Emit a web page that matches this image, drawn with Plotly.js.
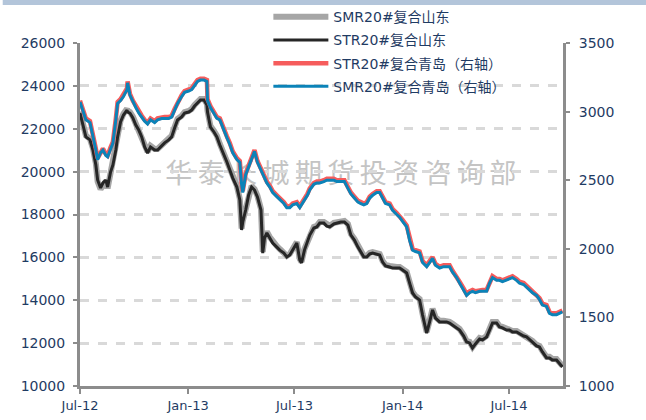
<!DOCTYPE html>
<html>
<head>
<meta charset="utf-8">
<script src="https://cdn.plot.ly/plotly-3.0.1.min.js"></script>
<style>
  html, body { margin: 0; padding: 0; background: #fff; }
  #chart { width: 646px; height: 420px; }
</style>
</head>
<body>
<div id="chart"></div>
<script>
// ── 天然橡胶现货价格：山东 vs 青岛 ─────────────────────────────

const dates = [
  '2012-07-01','2012-07-06','2012-07-11','2012-07-18','2012-07-23','2012-07-28','2012-07-31','2012-08-05','2012-08-09','2012-08-14',
  '2012-08-17','2012-08-22','2012-08-26','2012-08-31','2012-09-03','2012-09-08','2012-09-13','2012-09-19','2012-09-20','2012-09-24',
  '2012-09-29','2012-10-04','2012-10-09','2012-10-14','2012-10-19','2012-10-24','2012-10-29','2012-11-05','2012-11-10','2012-11-17',
  '2012-11-22','2012-11-29','2012-12-04','2012-12-09','2012-12-14','2012-12-21','2012-12-26','2013-01-02','2013-01-07','2013-01-12',
  '2013-01-17','2013-01-22','2013-01-28','2013-02-02','2013-02-03','2013-02-08','2013-02-14','2013-02-19','2013-02-24','2013-03-01',
  '2013-03-08','2013-03-13','2013-03-18','2013-03-25','2013-03-30','2013-04-02','2013-04-04','2013-04-09','2013-04-14','2013-04-19',
  '2013-04-24','2013-04-29','2013-05-05','2013-05-08','2013-05-11','2013-05-15','2013-05-20','2013-05-25','2013-06-01','2013-06-06',
  '2013-06-13','2013-06-18','2013-06-23','2013-06-28','2013-07-05','2013-07-10','2013-07-13','2013-07-18','2013-07-23','2013-07-27',
  '2013-08-03','2013-08-08','2013-08-13','2013-08-20','2013-08-25','2013-08-30','2013-09-06','2013-09-11','2013-09-18','2013-09-24',
  '2013-09-30','2013-10-05','2013-10-11','2013-10-17','2013-10-22','2013-10-27','2013-11-01','2013-11-06','2013-11-11','2013-11-18',
  '2013-11-23','2013-11-28','2013-12-03','2013-12-10','2013-12-15','2013-12-22','2013-12-27','2014-01-01','2014-01-08','2014-01-13',
  '2014-01-18','2014-01-23','2014-01-30','2014-02-04','2014-02-08','2014-02-11','2014-02-16','2014-02-21','2014-02-26','2014-03-05',
  '2014-03-12','2014-03-17','2014-03-22','2014-03-27','2014-04-03','2014-04-08','2014-04-15','2014-04-20','2014-04-25','2014-04-30',
  '2014-05-05','2014-05-12','2014-05-17','2014-05-24','2014-05-29','2014-06-03','2014-06-10','2014-06-15','2014-06-20','2014-06-27',
  '2014-07-02','2014-07-07','2014-07-14','2014-07-19','2014-07-26','2014-07-31','2014-08-05','2014-08-10','2014-08-17','2014-08-22',
  '2014-08-27','2014-09-03','2014-09-08','2014-09-13','2014-09-20','2014-09-25','2014-09-30'
];

// 左轴 元/吨
const smrShandong = [
  22800,22250,21680,21520,21080,20380,19540,19180,19420,19560,
  19220,19920,20380,21080,21680,22380,22700,22930,22840,22780,
  22560,22230,21990,21680,21200,20920,21200,21060,21060,21250,
  21380,21530,21670,22080,22460,22600,22780,22830,22920,23110,
  23250,23390,23390,23160,22830,22130,21900,21670,21290,20920,
  20500,20130,19750,19330,18730,17340,17700,18260,18960,19330,
  19190,18870,18260,16260,16950,17190,16950,16720,16530,16390,
  16250,16070,16160,16390,16720,15930,15790,16390,16770,17090,
  17420,17470,17650,17650,17510,17470,17610,17650,17700,17700,
  17560,17090,16860,16530,16300,16070,16070,16210,16250,16210,
  16160,15830,15650,15600,15550,15550,15550,15460,15320,14850,
  14390,14200,14060,13360,12900,12520,13040,13600,13220,13040,
  13040,13040,12990,12900,12760,12660,12380,12100,12060,11820,
  12010,12240,12200,12340,12660,12990,12990,12800,12760,12660,
  12660,12570,12570,12480,12380,12340,12240,12100,11920,11870,
  11640,11360,11360,11260,11260,11120,10940
];
const strShandong = [
  22730,22170,21620,21480,21010,20310,19610,19240,19470,19610,
  19280,19980,20310,21010,21620,22320,22640,22870,22780,22730,
  22500,22170,21940,21620,21150,20870,21150,21010,21010,21200,
  21340,21480,21620,22030,22410,22550,22730,22780,22870,23060,
  23200,23340,23340,23110,22780,22080,21850,21620,21240,20870,
  20450,20080,19700,19280,18680,17280,17650,18210,18910,19280,
  19140,18820,18210,16200,16900,17140,16900,16670,16480,16340,
  16200,16020,16110,16340,16670,15880,15740,16340,16720,17040,
  17370,17420,17600,17600,17460,17420,17560,17600,17650,17650,
  17510,17040,16810,16480,16250,16020,16020,16160,16200,16160,
  16110,15780,15600,15550,15500,15500,15500,15410,15270,14800,
  14340,14150,14010,13310,12850,12470,12990,13550,13170,12990,
  12990,12990,12940,12850,12710,12610,12330,12050,12010,11770,
  11960,12190,12150,12290,12610,12940,12940,12750,12710,12610,
  12610,12520,12520,12430,12330,12290,12190,12050,11870,11820,
  11590,11310,11310,11210,11210,11070,10890
];

// 右轴 美元/吨
const strQingdao = [
  3080,3020,2950,2930,2840,2730,2660,2710,2730,2690,
  2680,2740,2780,2950,3070,3090,3120,3170,3220,3130,
  3080,3040,3000,2970,2940,2920,2950,2930,2950,2960,
  2960,2960,2970,3020,3070,3120,3150,3160,3170,3200,
  3230,3240,3240,3230,3090,3040,3000,2960,2950,2890,
  2820,2770,2710,2660,2640,2480,2420,2550,2610,2670,
  2720,2640,2580,2550,2530,2490,2460,2420,2390,2370,
  2340,2310,2310,2330,2340,2310,2330,2370,2400,2440,
  2480,2490,2490,2500,2510,2510,2510,2500,2500,2500,
  2450,2410,2380,2350,2340,2330,2340,2380,2400,2420,
  2420,2380,2340,2330,2290,2260,2240,2210,2170,2070,
  2000,1990,1980,1910,1890,1880,1910,1940,1890,1870,
  1880,1880,1880,1840,1800,1760,1710,1670,1690,1700,
  1690,1700,1700,1700,1760,1800,1780,1780,1770,1780,
  1790,1800,1780,1760,1750,1730,1710,1690,1670,1640,
  1600,1590,1540,1530,1530,1540,1550
];
const smrQingdao = [
  3070,3010,2940,2920,2830,2720,2650,2700,2720,2680,
  2670,2730,2770,2940,3060,3080,3110,3160,3210,3120,
  3070,3030,2990,2960,2930,2910,2940,2920,2940,2950,
  2950,2950,2960,3010,3060,3110,3140,3150,3160,3190,
  3220,3230,3230,3220,3080,3030,2990,2950,2940,2880,
  2810,2760,2700,2650,2630,2470,2410,2540,2600,2660,
  2710,2630,2570,2540,2520,2480,2450,2410,2380,2360,
  2330,2300,2300,2320,2330,2300,2320,2360,2390,2430,
  2470,2480,2480,2490,2500,2500,2500,2490,2490,2490,
  2440,2400,2370,2340,2330,2320,2330,2370,2390,2410,
  2410,2370,2330,2320,2280,2250,2230,2200,2160,2060,
  1990,1980,1970,1900,1880,1870,1900,1930,1880,1860,
  1870,1870,1870,1830,1790,1750,1700,1660,1680,1690,
  1680,1690,1690,1690,1750,1790,1770,1770,1760,1770,
  1780,1790,1770,1750,1740,1720,1700,1680,1660,1630,
  1590,1580,1530,1520,1520,1530,1540
];

const seriesNames = ['SMR20#复合山东', 'STR20#复合山东', 'STR20#复合青岛（右轴）', 'SMR20#复合青岛（右轴）'];
const watermark = '华泰长城期货投资咨询部';

const NAVY = '#1f3b63';
const AXIS = '#8c8c8c';
const FONT = 'DejaVu Sans, "Noto Sans CJK SC", sans-serif';

// 每条线单独成组，用 tracegroupgap 拉开图例行距
const traces = [
  { x: dates, y: smrShandong, name: seriesNames[0], type: 'scatter', mode: 'lines', legendgroup: 'g1',
    line: { color: '#a6a6a6', width: 6 } },
  { x: dates, y: strShandong, name: seriesNames[1], type: 'scatter', mode: 'lines', legendgroup: 'g2',
    line: { color: '#262626', width: 3 } },
  { x: dates, y: strQingdao, name: seriesNames[2], type: 'scatter', mode: 'lines', yaxis: 'y2', legendgroup: 'g3',
    line: { color: '#f65c5c', width: 4.5 } },
  { x: dates, y: smrQingdao, name: seriesNames[3], type: 'scatter', mode: 'lines', yaxis: 'y2', legendgroup: 'g4',
    line: { color: '#0b83b8', width: 3 } },
];

const tickFont = { family: FONT, size: 14, color: NAVY };

const layout = {
  width: 646,
  height: 420,
  margin: { l: 80, r: 83, t: 43, b: 34, autoexpand: false },
  paper_bgcolor: '#ffffff',
  plot_bgcolor: '#ffffff',
  font: { family: FONT, color: NAVY },
  showlegend: true,
  legend: {
    x: 0.39, y: 1.122, xanchor: 'left', yanchor: 'top',
    bgcolor: 'rgba(0,0,0,0)',
    font: { family: FONT, size: 14, color: NAVY },
    itemwidth: 55,
    tracegroupgap: 2,
  },
  xaxis: {
    type: 'date',
    range: ['2012-07-01', '2014-10-01'],
    tick0: '2012-07-01',
    dtick: 'M6',
    tickformat: '%b-%y',
    showgrid: false,
    zeroline: false,
    showline: true,
    linecolor: AXIS,
    linewidth: 3,
    ticks: 'outside',
    ticklen: 5,
    tickwidth: 2,
    tickcolor: AXIS,
    tickfont: { family: FONT, size: 13, color: NAVY },
  },
  yaxis: {
    range: [10000, 26000],
    dtick: 2000,
    tickformat: 'd',
    showline: true,
    linecolor: AXIS,
    linewidth: 3,
    ticks: 'outside',
    ticklen: 4,
    tickwidth: 2,
    tickcolor: AXIS,
    ticklabelstandoff: 5,
    gridcolor: '#d9d9d9',
    gridwidth: 3,
    griddash: 'dash',
    zeroline: false,
    tickfont: tickFont,
  },
  yaxis2: {
    overlaying: 'y',
    side: 'right',
    range: [1000, 3500],
    dtick: 500,
    tickformat: 'd',
    showgrid: false,
    zeroline: false,
    showline: true,
    linecolor: AXIS,
    linewidth: 3,
    ticks: 'outside',
    ticklen: 4,
    tickwidth: 2,
    tickcolor: AXIS,
    ticklabelstandoff: 6,
    tickfont: tickFont,
  },
  shapes: [
    // 顶部色条
    { type: 'rect', xref: 'paper', yref: 'paper', x0: -0.16, x1: 1.18, y0: 1.111, y1: 1.13,
      fillcolor: '#b3c5da', line: { width: 0 }, layer: 'above' },
    // 水印
    { type: 'rect', xref: 'paper', yref: 'paper', x0: 0.15, x1: 0.93, y0: 0.57, y1: 0.66,
      line: { width: 0 }, fillcolor: 'rgba(0,0,0,0)', layer: 'below',
      label: { text: watermark.split('').join('\u2009'), textposition: 'middle center',
        font: { family: '"Noto Sans CJK SC", sans-serif', size: 27, color: '#c4c4c4' } } },
  ],
};

Plotly.newPlot('chart', traces, layout, { displayModeBar: false, staticPlot: true });
</script>
</body>
</html>
